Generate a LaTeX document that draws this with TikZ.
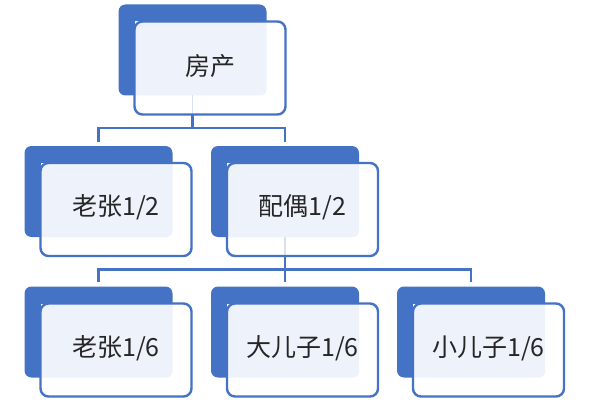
\documentclass[tikz,border=0pt]{standalone}
\usepackage{fontspec}
\setmainfont{Noto Sans CJK SC}
\usetikzlibrary{calc}
\definecolor{blueb}{HTML}{4472C4}
\definecolor{lightc}{HTML}{EEF2FA}
\definecolor{faintc}{HTML}{D9E1F0}
\definecolor{txtc}{HTML}{262626}
\tikzset{
  backbox/.style={fill=blueb, rounded corners=7pt, minimum width=148pt, minimum height=91pt, inner sep=0pt, outer sep=0pt},
  frontbox/.style={fill=white, minimum width=151pt, minimum height=93pt, inner sep=0pt, outer sep=0pt},
  frontline/.style={draw=blueb, line width=2.4pt, rounded corners=8pt},
  lbl/.style={text=txtc, font=\fontsize{25}{29}\selectfont, inner sep=0pt},
  conn/.style={draw=blueb, line width=2.4pt},
  faint/.style={draw=faintc, line width=1.5pt}
}
\newcommand\famnode[4]{%
  \node[backbox, anchor=north west] (b#1) at (#2,#3) {};
  \node[frontbox, anchor=north west] (f#1) at ($(#2,#3)+(16,17)$) {};
  \begin{scope}
    \clip[rounded corners=8pt] (f#1.north west) rectangle (f#1.south east);
    \fill[lightc, rounded corners=6pt] ($(f#1.north west)+(-10,-10)$) rectangle (b#1.south east);
  \end{scope}
  \node[lbl] (t#1) at ($(f#1.center)+(0,-2)$) {#4};
}
\newcommand\famborder[1]{%
  \draw[frontline] (f#1.north west) rectangle (f#1.south east);
}
\begin{document}
\begin{tikzpicture}[x=1pt, y=-1pt]
\useasboundingbox (0,0) rectangle (600,420);
\famnode{0}{118.5}{4.5}{房产}
\famnode{1}{24.5}{146}{老张1/2}
\famnode{2}{211}{146}{配偶1/2}
\famnode{3}{24.5}{286.5}{老张1/6}
\famnode{4}{211}{286.5}{大儿子1/6}
\famnode{5}{397}{286.5}{小儿子1/6}
\draw[faint] (b0.south) -- (b0.south |- f0.south);
\draw[faint] (b2.south) -- (b2.south |- f2.south);
\famborder{0}\famborder{1}\famborder{2}\famborder{3}\famborder{4}\famborder{5}
% connectors
\draw[conn] (b0.south |- f0.south) -- ++(0,13.5) coordinate (j0);
\draw[conn] ($(b1.north)+(0,-4)$) |- (j0) -| ($(b2.north)+(0,-4)$);
\draw[conn] (b2.south |- f2.south) -- ++(0,13.5) coordinate (j1);
\draw[conn] ($(b3.north)+(0,-4.5)$) |- (j1) -| ($(b5.north)+(0,-4.5)$);
\draw[conn] (j1) -- ($(b4.north)+(0,-4.5)$);
\end{tikzpicture}
\end{document}
